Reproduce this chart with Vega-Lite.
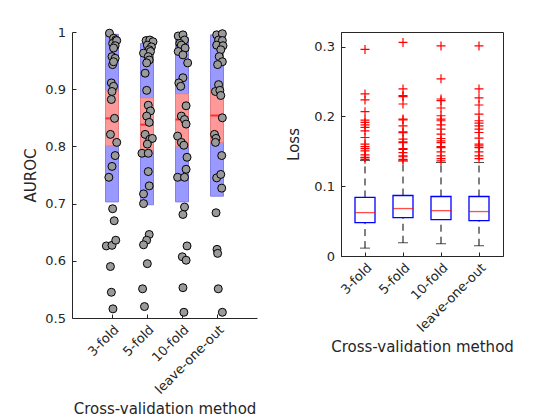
{
  "$schema": "https://vega.github.io/schema/vega-lite/v6.json",
  "padding": {"left": 23, "top": 26, "right": 5, "bottom": 5},
  "background": "white",
  "config": {
    "font": "DejaVu Sans",
    "axis": {
      "labelFont": "DejaVu Sans",
      "titleFont": "DejaVu Sans",
      "labelFontSize": 13,
      "titleFontSize": 15,
      "titleFontWeight": "normal",
      "labelColor": "#262626",
      "titleColor": "#262626",
      "domainColor": "#262626",
      "tickColor": "#262626",
      "grid": false,
      "tickSize": -4,
      "labelPadding": 10.5,
      "labelOverlap": false
    },
    "axisX": {"labelAlign": "right", "labelBaseline": "top", "labelPadding": 9}
  },
  "datasets": {
    "auroc_stats": [
      {"i": 1, "method": "3-fold", "sdLo": 0.703, "sdHi": 0.996, "ciLo": 0.801, "ciHi": 0.898, "mean": 0.849},
      {"i": 2, "method": "5-fold", "sdLo": 0.698, "sdHi": 0.98, "ciLo": 0.793, "ciHi": 0.885, "mean": 0.838},
      {"i": 3, "method": "10-fold", "sdLo": 0.703, "sdHi": 0.99, "ciLo": 0.8, "ciHi": 0.892, "mean": 0.847},
      {"i": 4, "method": "leave-one-out", "sdLo": 0.713, "sdHi": 0.995, "ciLo": 0.807, "ciHi": 0.899, "mean": 0.854}
    ],
    "auroc_pts": [
      {"x": 0.928, "y": 0.998}, {"x": 1.045, "y": 0.989}, {"x": 1.108, "y": 0.986}, {"x": 1.018, "y": 0.98},
      {"x": 1.135, "y": 0.985}, {"x": 1.09, "y": 0.976}, {"x": 1.045, "y": 0.972}, {"x": 1.0, "y": 0.957},
      {"x": 1.09, "y": 0.954}, {"x": 1.018, "y": 0.943}, {"x": 1.045, "y": 0.948}, {"x": 0.982, "y": 0.911},
      {"x": 1.045, "y": 0.905}, {"x": 1.0, "y": 0.896}, {"x": 0.982, "y": 0.882}, {"x": 1.072, "y": 0.849},
      {"x": 0.955, "y": 0.821}, {"x": 1.135, "y": 0.807}, {"x": 1.09, "y": 0.784}, {"x": 1.0, "y": 0.765},
      {"x": 0.91, "y": 0.746}, {"x": 1.018, "y": 0.691}, {"x": 1.063, "y": 0.67}, {"x": 0.838, "y": 0.626},
      {"x": 1.0, "y": 0.627}, {"x": 1.108, "y": 0.636}, {"x": 0.955, "y": 0.59}, {"x": 0.982, "y": 0.545},
      {"x": 1.027, "y": 0.516},
      {"x": 1.973, "y": 0.985}, {"x": 2.081, "y": 0.986}, {"x": 2.171, "y": 0.983}, {"x": 2.009, "y": 0.977},
      {"x": 2.126, "y": 0.974}, {"x": 2.063, "y": 0.969}, {"x": 1.901, "y": 0.963}, {"x": 2.099, "y": 0.966},
      {"x": 2.036, "y": 0.957}, {"x": 2.063, "y": 0.951}, {"x": 1.991, "y": 0.946}, {"x": 1.946, "y": 0.928},
      {"x": 1.991, "y": 0.898}, {"x": 2.036, "y": 0.872}, {"x": 2.099, "y": 0.862}, {"x": 1.991, "y": 0.853},
      {"x": 2.063, "y": 0.842}, {"x": 1.946, "y": 0.821}, {"x": 2.081, "y": 0.8125}, {"x": 2.153, "y": 0.814},
      {"x": 2.009, "y": 0.804}, {"x": 1.856, "y": 0.788}, {"x": 2.036, "y": 0.788}, {"x": 2.036, "y": 0.756},
      {"x": 2.063, "y": 0.731}, {"x": 1.901, "y": 0.717}, {"x": 1.901, "y": 0.7}, {"x": 2.063, "y": 0.646},
      {"x": 1.991, "y": 0.636}, {"x": 1.901, "y": 0.628}, {"x": 2.009, "y": 0.595}, {"x": 1.874, "y": 0.551},
      {"x": 1.928, "y": 0.52},
      {"x": 2.892, "y": 0.993}, {"x": 3.027, "y": 0.995}, {"x": 3.072, "y": 0.986}, {"x": 2.937, "y": 0.98},
      {"x": 2.982, "y": 0.977}, {"x": 2.892, "y": 0.966}, {"x": 3.09, "y": 0.972}, {"x": 3.027, "y": 0.96},
      {"x": 3.162, "y": 0.946}, {"x": 3.027, "y": 0.92}, {"x": 2.91, "y": 0.911}, {"x": 2.964, "y": 0.905},
      {"x": 3.117, "y": 0.871}, {"x": 2.982, "y": 0.853}, {"x": 3.072, "y": 0.847}, {"x": 3.117, "y": 0.839},
      {"x": 2.874, "y": 0.818}, {"x": 2.982, "y": 0.807}, {"x": 3.054, "y": 0.802}, {"x": 3.144, "y": 0.781},
      {"x": 3.117, "y": 0.76}, {"x": 2.874, "y": 0.746}, {"x": 3.072, "y": 0.746}, {"x": 3.072, "y": 0.694},
      {"x": 3.027, "y": 0.681}, {"x": 3.144, "y": 0.626}, {"x": 3.009, "y": 0.607}, {"x": 3.117, "y": 0.601},
      {"x": 3.027, "y": 0.553}, {"x": 3.054, "y": 0.51},
      {"x": 3.991, "y": 0.995}, {"x": 4.153, "y": 0.997}, {"x": 4.045, "y": 0.986}, {"x": 4.153, "y": 0.985},
      {"x": 3.991, "y": 0.977}, {"x": 4.171, "y": 0.976}, {"x": 4.108, "y": 0.969}, {"x": 4.063, "y": 0.957},
      {"x": 4.153, "y": 0.948}, {"x": 4.018, "y": 0.943}, {"x": 4.045, "y": 0.908}, {"x": 3.955, "y": 0.896},
      {"x": 4.081, "y": 0.898}, {"x": 4.108, "y": 0.889}, {"x": 4.153, "y": 0.85}, {"x": 3.928, "y": 0.821},
      {"x": 3.973, "y": 0.814}, {"x": 3.955, "y": 0.807}, {"x": 4.135, "y": 0.784}, {"x": 3.991, "y": 0.745},
      {"x": 4.108, "y": 0.751}, {"x": 4.135, "y": 0.727}, {"x": 3.973, "y": 0.684}, {"x": 4.0, "y": 0.62},
      {"x": 4.018, "y": 0.613}, {"x": 4.036, "y": 0.551}, {"x": 4.153, "y": 0.51}
    ],
    "loss_box": [
      {"i": 1, "lower": 0.0113, "q1": 0.0478, "median": 0.0622, "q3": 0.0839, "upper": 0.137},
      {"i": 2, "lower": 0.019, "q1": 0.055, "median": 0.068, "q3": 0.0867, "upper": 0.136},
      {"i": 3, "lower": 0.0176, "q1": 0.052, "median": 0.065, "q3": 0.0853, "upper": 0.134},
      {"i": 4, "lower": 0.0147, "q1": 0.0507, "median": 0.0637, "q3": 0.0853, "upper": 0.134}
    ],
    "loss_out": [
      {"i": 1, "v": 0.296}, {"i": 1, "v": 0.2322}, {"i": 1, "v": 0.2236}, {"i": 1, "v": 0.2068},
      {"i": 1, "v": 0.1948}, {"i": 1, "v": 0.1914}, {"i": 1, "v": 0.188}, {"i": 1, "v": 0.1842},
      {"i": 1, "v": 0.1794}, {"i": 1, "v": 0.1698}, {"i": 1, "v": 0.1602}, {"i": 1, "v": 0.1568},
      {"i": 1, "v": 0.1539}, {"i": 1, "v": 0.1506}, {"i": 1, "v": 0.1448}, {"i": 1, "v": 0.141},
      {"i": 1, "v": 0.1386}, {"i": 1, "v": 0.1415},
      {"i": 2, "v": 0.306}, {"i": 2, "v": 0.2394}, {"i": 2, "v": 0.2298}, {"i": 2, "v": 0.2285},
      {"i": 2, "v": 0.2178}, {"i": 2, "v": 0.1962}, {"i": 2, "v": 0.195}, {"i": 2, "v": 0.1866},
      {"i": 2, "v": 0.178}, {"i": 2, "v": 0.1768}, {"i": 2, "v": 0.1674}, {"i": 2, "v": 0.1636},
      {"i": 2, "v": 0.1625}, {"i": 2, "v": 0.1539}, {"i": 2, "v": 0.1528}, {"i": 2, "v": 0.1482},
      {"i": 2, "v": 0.1434}, {"i": 2, "v": 0.1422}, {"i": 2, "v": 0.1386}, {"i": 2, "v": 0.1375},
      {"i": 3, "v": 0.301}, {"i": 3, "v": 0.2539}, {"i": 3, "v": 0.225}, {"i": 3, "v": 0.2226},
      {"i": 3, "v": 0.2121}, {"i": 3, "v": 0.201}, {"i": 3, "v": 0.1962}, {"i": 3, "v": 0.1938},
      {"i": 3, "v": 0.188}, {"i": 3, "v": 0.1818}, {"i": 3, "v": 0.1746}, {"i": 3, "v": 0.1684},
      {"i": 3, "v": 0.165}, {"i": 3, "v": 0.1626}, {"i": 3, "v": 0.1568}, {"i": 3, "v": 0.1554},
      {"i": 3, "v": 0.1492}, {"i": 3, "v": 0.1434}, {"i": 3, "v": 0.1395}, {"i": 3, "v": 0.1362},
      {"i": 4, "v": 0.301}, {"i": 4, "v": 0.2394}, {"i": 4, "v": 0.2265}, {"i": 4, "v": 0.2164},
      {"i": 4, "v": 0.2034}, {"i": 4, "v": 0.1938}, {"i": 4, "v": 0.1905}, {"i": 4, "v": 0.1866},
      {"i": 4, "v": 0.1818}, {"i": 4, "v": 0.177}, {"i": 4, "v": 0.1688}, {"i": 4, "v": 0.1602},
      {"i": 4, "v": 0.1578}, {"i": 4, "v": 0.1554}, {"i": 4, "v": 0.1492}, {"i": 4, "v": 0.1434},
      {"i": 4, "v": 0.1395}
    ]
  },
  "hconcat": [
    {
      "width": 185,
      "height": 286,
      "view": {"stroke": null},
      "layer": [
        {
          "data": {"name": "auroc_stats"},
          "mark": {"type": "bar", "size": 13, "color": "#9999ff", "stroke": "#8080e6", "strokeWidth": 1},
          "encoding": {
            "x": {"field": "i", "type": "quantitative", "scale": {"domain": [0, 5], "nice": false},
              "axis": {"values": [1, 2, 3, 4], "labelExpr": "['3-fold','5-fold','10-fold','leave-one-out'][datum.value - 1]",
                "labelAngle": -45, "title": "Cross-validation method", "titlePadding": 5}},
            "y": {"field": "sdLo", "type": "quantitative", "scale": {"domain": [0.5, 1], "nice": false},
              "axis": {"values": [0.5, 0.6, 0.7, 0.8, 0.9, 1], "format": ".1~f", "title": "AUROC", "titlePadding": 6}},
            "y2": {"field": "sdHi"}
          }
        },
        {
          "data": {"name": "auroc_stats"},
          "mark": {"type": "bar", "size": 13, "color": "#ff9999", "stroke": "#e68080", "strokeWidth": 1},
          "encoding": {
            "x": {"field": "i", "type": "quantitative"},
            "y": {"field": "ciLo", "type": "quantitative"},
            "y2": {"field": "ciHi"}
          }
        },
        {
          "data": {"name": "auroc_stats"},
          "mark": {"type": "tick", "orient": "horizontal", "size": 13, "thickness": 2, "color": "#ff0000"},
          "encoding": {
            "x": {"field": "i", "type": "quantitative"},
            "y": {"field": "mean", "type": "quantitative"}
          }
        },
        {
          "data": {"name": "auroc_pts"},
          "mark": {"type": "point", "shape": "circle", "filled": true, "fill": "#9a9a9a", "stroke": "#000000", "strokeWidth": 1, "size": 64, "opacity": 1, "clip": false},
          "encoding": {
            "x": {"field": "x", "type": "quantitative"},
            "y": {"field": "y", "type": "quantitative"}
          }
        }
      ]
    },
    {
      "width": 162,
      "height": 224,
      "view": {"stroke": "#262626", "strokeWidth": 1},
      "layer": [
        {
          "data": {"name": "loss_box"},
          "mark": {"type": "rule", "color": "#000000", "strokeDash": [7, 5], "strokeWidth": 1},
          "encoding": {
            "x": {"field": "i", "type": "quantitative", "scale": {"domain": [0.5, 4.5], "nice": false},
              "axis": {"values": [1, 2, 3, 4], "labelExpr": "['3-fold','5-fold','10-fold','leave-one-out'][datum.value - 1]",
                "labelAngle": -45, "title": "Cross-validation method", "titlePadding": 5}},
            "y": {"field": "q3", "type": "quantitative", "scale": {"domain": [0, 0.321], "nice": false},
              "axis": {"values": [0, 0.05, 0.1, 0.15, 0.2, 0.25, 0.3], "format": ".2~f", "title": "Loss", "titlePadding": 12}},
            "y2": {"field": "upper"}
          }
        },
        {
          "data": {"name": "loss_box"},
          "mark": {"type": "rule", "color": "#000000", "strokeDash": [7, 5], "strokeWidth": 1},
          "encoding": {
            "x": {"field": "i", "type": "quantitative"},
            "y": {"field": "lower", "type": "quantitative"},
            "y2": {"field": "q1"}
          }
        },
        {
          "data": {"name": "loss_box"},
          "mark": {"type": "tick", "orient": "horizontal", "size": 10, "thickness": 1, "color": "#000000"},
          "encoding": {
            "x": {"field": "i", "type": "quantitative"},
            "y": {"field": "upper", "type": "quantitative"}
          }
        },
        {
          "data": {"name": "loss_box"},
          "mark": {"type": "tick", "orient": "horizontal", "size": 10, "thickness": 1, "color": "#000000"},
          "encoding": {
            "x": {"field": "i", "type": "quantitative"},
            "y": {"field": "lower", "type": "quantitative"}
          }
        },
        {
          "data": {"name": "loss_box"},
          "mark": {"type": "bar", "size": 20, "fill": "white", "stroke": "#0000ff", "strokeWidth": 1.3},
          "encoding": {
            "x": {"field": "i", "type": "quantitative"},
            "y": {"field": "q1", "type": "quantitative"},
            "y2": {"field": "q3"}
          }
        },
        {
          "data": {"name": "loss_box"},
          "mark": {"type": "tick", "orient": "horizontal", "size": 20, "thickness": 1.3, "color": "#ff0000"},
          "encoding": {
            "x": {"field": "i", "type": "quantitative"},
            "y": {"field": "median", "type": "quantitative"}
          }
        },
        {
          "data": {"name": "loss_out"},
          "mark": {"type": "point", "shape": "M-1,0L1,0M0,-1L0,1", "filled": false, "stroke": "#ff0000", "strokeWidth": 1.2, "size": 81, "opacity": 1},
          "encoding": {
            "x": {"field": "i", "type": "quantitative"},
            "y": {"field": "v", "type": "quantitative"}
          }
        }
      ]
    }
  ],
  "spacing": 84,
  "bounds": "flush"
}
